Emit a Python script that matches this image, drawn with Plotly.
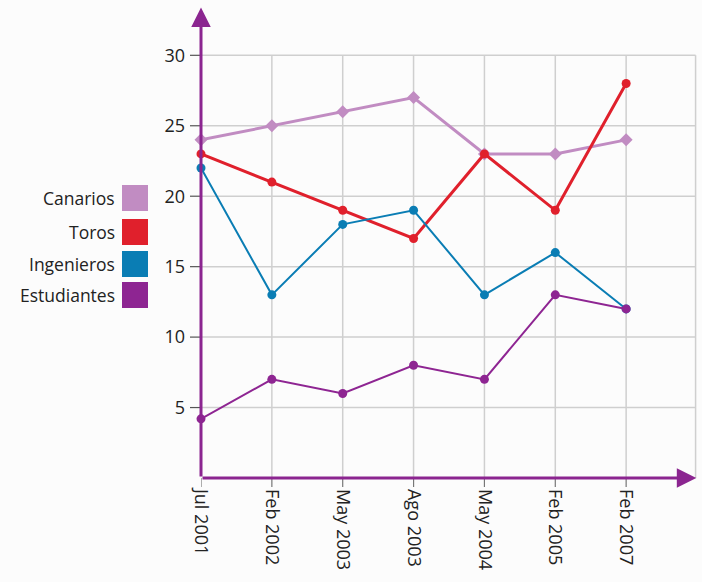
import plotly.graph_objects as go

categories = ["Jul 2001", "Feb 2002", "May 2003", "Ago 2003", "May 2004", "Feb 2005", "Feb 2007"]
canarios = [24, 25, 26, 27, 23, 23, 24]
toros = [23, 21, 19, 17, 23, 19, 28]
ingenieros = [22, 13, 18, 19, 13, 16, 12]
estudiantes = [4.2, 7, 6, 8, 7, 13, 12]
y_ticks = [5, 10, 15, 20, 25, 30]

series_names = ["Canarios", "Toros", "Ingenieros", "Estudiantes"]
series_colors = ["#c18cc2", "#e0202c", "#0a7db4", "#8e2592"]
series_widths = [3, 3, 2, 2]
series_symbols = ["diamond", "circle", "circle", "circle"]
series_data = [canarios, toros, ingenieros, estudiantes]

AXIS = "#8b2590"
GRID = "#cfcfcf"
FONT = "Open Sans"

W, H = 702, 582
L, R, T, B = 201, 5, 6, 104
XMAX = 7
YMAX = 33.5

fig = go.Figure()
for name, data, col, w, sym in zip(series_names, series_data, series_colors, series_widths, series_symbols):
    fig.add_trace(go.Scatter(
        x=categories, y=data, mode="lines+markers", name=name,
        line=dict(color=col, width=w),
        marker=dict(color=col, size=10 if sym == "diamond" else 9, symbol=sym),
        showlegend=False, cliponaxis=False,
    ))

shapes = []
for v in y_ticks:
    shapes.append(dict(type="line", xref="x", yref="y", x0=0, x1=XMAX - 0.02, y0=v, y1=v,
                       line=dict(color=GRID, width=1.5), layer="below"))
for c in categories[1:]:
    shapes.append(dict(type="line", xref="x", yref="y", x0=c, x1=c, y0=0, y1=y_ticks[-1],
                       line=dict(color=GRID, width=1.5), layer="below"))
shapes.append(dict(type="line", xref="x", yref="y", x0=XMAX - 0.02, x1=XMAX - 0.02, y0=0, y1=y_ticks[-1],
                   line=dict(color=GRID, width=1.5), layer="below"))

pw = W - L - R
ph = H - T - B
def px_x(p):
    return (p - L) / pw
def px_y(p):
    return (H - B - p) / ph

for v in y_ticks:
    shapes.append(dict(type="line", xref="paper", yref="y", x0=-11 / pw, x1=0, y0=v, y1=v,
                       line=dict(color="#555555", width=1.2)))
for c in categories:
    shapes.append(dict(type="line", xref="x", yref="paper", x0=c, x1=c, y0=-9 / ph, y1=0,
                       line=dict(color="#777777", width=1.2)))

annotations = []
annotations.append(dict(x=XMAX - 0.01, y=0, ax=0, ay=0, xref="x", yref="y", axref="x", ayref="y",
                        text="", showarrow=True, arrowhead=2, arrowsize=1.3, arrowwidth=3,
                        arrowcolor=AXIS, standoff=0))
annotations.append(dict(x=0, y=YMAX - 0.1, ax=0, ay=0, xref="x", yref="y", axref="x", ayref="y",
                        text="", showarrow=True, arrowhead=2, arrowsize=1.3, arrowwidth=3,
                        arrowcolor=AXIS, standoff=0))

leg_centers = [198, 232, 264, 295]
for name, col, cy in zip(series_names, series_colors, leg_centers):
    shapes.append(dict(type="rect", xref="paper", yref="paper",
                       x0=px_x(122), x1=px_x(148), y0=px_y(cy + 13), y1=px_y(cy - 13),
                       fillcolor=col, line=dict(width=0)))
    annotations.append(dict(x=px_x(117), y=px_y(cy), xref="paper", yref="paper", text=name,
                            showarrow=False, xanchor="right", yanchor="middle",
                            font=dict(family=FONT, size=17.5, color="#222222")))

fig.update_layout(
    width=W, height=H,
    margin=dict(l=L, r=R, t=T, b=B, pad=0, autoexpand=False),
    paper_bgcolor="#fcfcfc", plot_bgcolor="#fcfcfc",
    shapes=shapes, annotations=annotations,
    xaxis=dict(type="category", range=[0, XMAX], showgrid=False, zeroline=False,
               showline=False, ticks="", tickangle=90, ticklabelstandoff=10, automargin=False,
               tickfont=dict(family=FONT, size=18, color="#222222")),
    yaxis=dict(range=[0, YMAX], tickvals=y_ticks, showgrid=False, zeroline=False,
               showline=False, ticks="", ticklabelstandoff=15, automargin=False,
               tickfont=dict(family=FONT, size=18, color="#222222")),
)
fig.write_html("out.html", config={"displayModeBar": False},
               post_script="document.body.style.margin='0';document.body.style.background='#fcfcfc';")
